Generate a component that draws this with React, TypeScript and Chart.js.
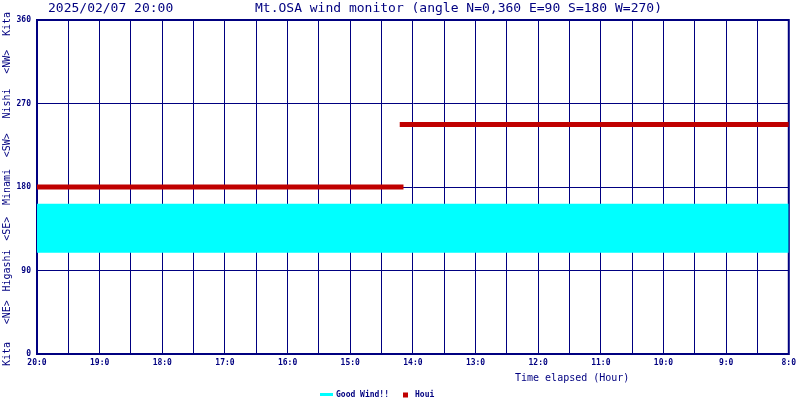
import React, { useEffect, useRef } from "react";
import { Chart, registerables } from "chart.js";

Chart.register(...registerables);

// ---- data ----
const DATE_LABEL = "2025/02/07 20:00";
const TITLE = "Mt.OSA wind monitor (angle N=0,360 E=90 S=180 W=270)";
const X_TITLE = "Time elapsed (Hour)";
const Y_TICKS = [0, 90, 180, 270, 360];
const DIRECTION_LABELS = ["Kita", "<NE>", "Higashi", "<SE>", "Minami", "<SW>", "Nishi", "<NW>", "Kita"];
const DIRECTION_ANGLES = [0, 45, 90, 135, 180, 225, 270, 315, 360];
const LEGEND_LABELS = ["Good Wind!!", "Houi"];

const GOOD_WIND_TIME = [20, 8];
const GOOD_WIND_LOW = 109;
const GOOD_WIND_HIGH = [162, 162];

const HOUI_SEG1_TIME = [20, 14.15];
const HOUI_SEG1_ANGLE = [180, 180];
const HOUI_SEG2_TIME = [14.21, 8];
const HOUI_SEG2_ANGLE = [247.5, 247.5];

const NAVY = "#000080";
const CYAN = "#00ffff";
const RED = "#c00000";
const MONO = '"DejaVu Sans Mono", monospace';

const decor = {
  id: "decor",
  beforeDatasetsDraw(chart: any) {
    const { ctx, chartArea: a } = chart;
    ctx.save();
    ctx.strokeStyle = NAVY;
    ctx.lineWidth = 2;
    ctx.strokeRect(a.left, a.top, a.right - a.left, a.bottom - a.top);
    ctx.restore();
  },
  afterDraw(chart: any) {
    const { ctx } = chart;
    const ys = chart.scales.y;
    ctx.save();
    ctx.fillStyle = NAVY;
    ctx.textBaseline = "middle";
    ctx.textAlign = "left";
    ctx.font = `13px ${MONO}`;
    ctx.fillText(DATE_LABEL, 48, 8.5);
    ctx.fillText(TITLE, 255, 8.5);
    ctx.font = `10px ${MONO}`;
    ctx.fillText(X_TITLE, 515, 378);

    // rotated direction labels
    ctx.font = `10px ${MONO}`;
    DIRECTION_LABELS.forEach((t, i) => {
      const w = ctx.measureText(t).width;
      let py = ys.getPixelForValue(DIRECTION_ANGLES[i]);
      py = Math.max(py, 12 + w / 2);
      ctx.save();
      ctx.translate(7.5, py);
      ctx.rotate(-Math.PI / 2);
      ctx.textAlign = "center";
      ctx.fillText(t, 0, 0);
      ctx.restore();
    });

    // legend
    const ly = 394.5;
    ctx.font = `bold 8px ${MONO}`;
    ctx.strokeStyle = CYAN;
    ctx.lineWidth = 3;
    ctx.beginPath();
    ctx.moveTo(320, ly);
    ctx.lineTo(333, ly);
    ctx.stroke();
    ctx.fillStyle = NAVY;
    ctx.fillText(LEGEND_LABELS[0], 336, ly + 0.5);
    ctx.fillStyle = RED;
    ctx.fillRect(403, 392.5, 5, 5);
    ctx.fillStyle = NAVY;
    ctx.fillText(LEGEND_LABELS[1], 415, ly + 0.5);
    ctx.restore();
  },
};

export default function App() {
  const ref = useRef<HTMLCanvasElement>(null);
  useEffect(() => {
    document.body.style.margin = "0";
    const canvas = ref.current!;
    const chart = new Chart(canvas, {
      type: "line",
      data: {
        datasets: [
          {
            label: LEGEND_LABELS[0],
            data: GOOD_WIND_TIME.map((x, i) => ({ x, y: GOOD_WIND_HIGH[i] })),
            borderWidth: 0,
            borderColor: CYAN,
            backgroundColor: CYAN,
            fill: { value: GOOD_WIND_LOW },
            pointRadius: 0,
          },
          {
            label: LEGEND_LABELS[1],
            data: HOUI_SEG1_TIME.map((x, i) => ({ x, y: HOUI_SEG1_ANGLE[i] })),
            borderWidth: 5,
            borderColor: RED,
            borderCapStyle: "butt",
            pointRadius: 0,
            fill: false,
          },
          {
            label: LEGEND_LABELS[1] + " ",
            data: HOUI_SEG2_TIME.map((x, i) => ({ x, y: HOUI_SEG2_ANGLE[i] })),
            borderWidth: 5,
            borderColor: RED,
            borderCapStyle: "butt",
            pointRadius: 0,
            fill: false,
          },
        ],
      },
      options: {
        animation: false,
        responsive: false,
        devicePixelRatio: 1,
        layout: { padding: { top: 20, right: 11, left: 0, bottom: 0 } },
        plugins: { legend: { display: false }, tooltip: { enabled: false }, title: { display: false } },
        scales: {
          x: {
            type: "linear",
            min: 8,
            max: 20,
            reverse: true,
            afterFit(s: any) {
              s.height = 46;
            },
            grid: { color: NAVY, lineWidth: 1, drawTicks: false },
            border: { color: NAVY, width: 2 },
            ticks: {
              stepSize: 0.5,
              autoSkip: false,
              maxRotation: 0,
              padding: 4,
              color: NAVY,
              font: { family: MONO, size: 8, weight: "bold" },
              callback: (v: any) => (Number.isInteger(v) ? `${v}:0` : ""),
            },
          },
          y: {
            min: 0,
            max: 360,
            afterFit(s: any) {
              s.width = 37;
            },
            afterBuildTicks(s: any) {
              s.ticks = Y_TICKS.map((v) => ({ value: v }));
            },
            grid: { color: NAVY, lineWidth: 1, drawTicks: false },
            border: { color: NAVY, width: 2 },
            ticks: {
              padding: 6,
              color: NAVY,
              font: { family: MONO, size: 8, weight: "bold" },
            },
          },
        },
      },
      plugins: [decor],
    } as any);
    return () => chart.destroy();
  }, []);
  return <canvas ref={ref} width={800} height={400} style={{ display: "block", width: 800, height: 400 }} />;
}
